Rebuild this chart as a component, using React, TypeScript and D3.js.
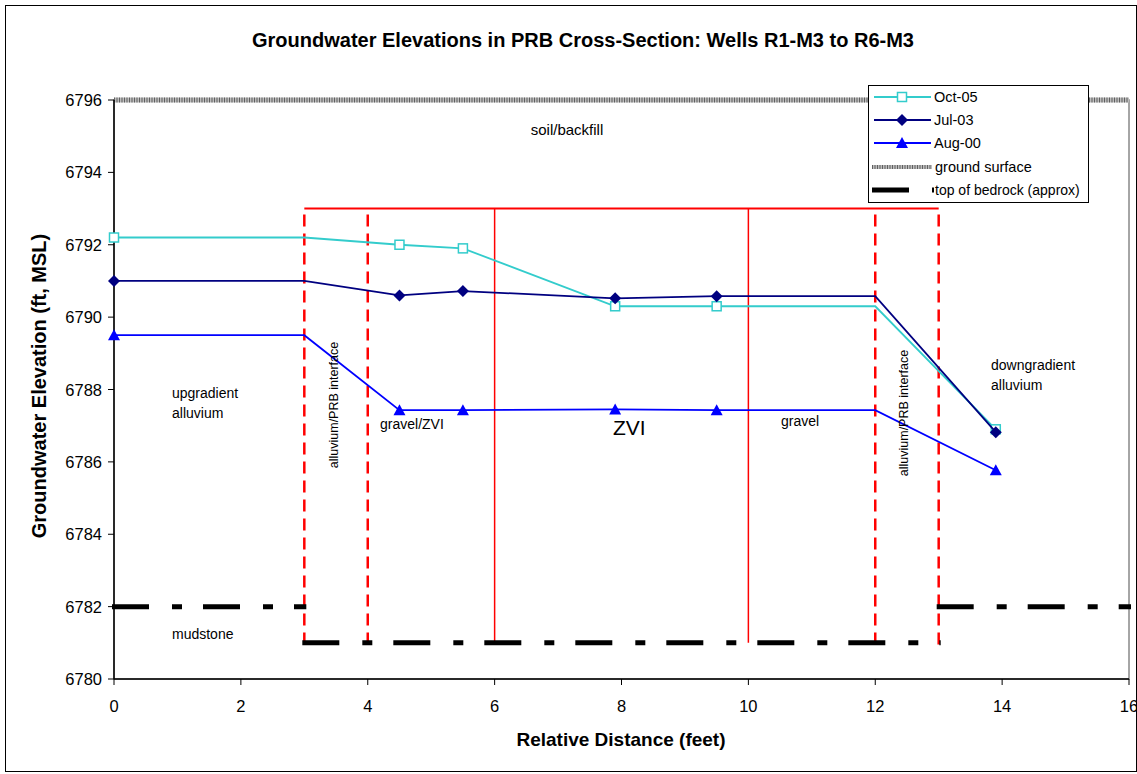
import React from "react";
import * as d3 from "d3";

const distances = [0, 3, 4.5, 5.5, 7.9, 9.5, 12, 13.9];
const markerFlags = [true, false, true, true, true, true, false, true];
const oct05 = [6792.2, 6792.2, 6792.0, 6791.9, 6790.3, 6790.3, 6790.3, 6786.9];
const jul03 = [6791.0, 6791.0, 6790.6, 6790.72, 6790.52, 6790.58, 6790.58, 6786.82];
const aug00 = [6789.5, 6789.5, 6787.43, 6787.43, 6787.45, 6787.43, 6787.43, 6785.77];

const xTicks = [0, 2, 4, 6, 8, 10, 12, 14, 16];
const yTicks = [6780, 6782, 6784, 6786, 6788, 6790, 6792, 6794, 6796];

const groundSurface = 6796;
const bedrockSegments = [
  { x0: 0, x1: 3, y: 6782 },
  { x0: 3, x1: 13, y: 6781 },
  { x0: 13, x1: 16, y: 6782 },
];
const barrierTop = 6793;
const barrierBottom = 6781;
const barrierX0 = 3;
const barrierX1 = 13;
const dashedWalls = [3, 4, 12, 13];
const solidWalls = [6, 10];

const series = [
  { name: "Oct-05", values: oct05, color: "#33CCCC", marker: "square" },
  { name: "Jul-03", values: jul03, color: "#000080", marker: "diamond" },
  { name: "Aug-00", values: aug00, color: "#0000FF", marker: "triangle" },
];

const W = 1137;
const H = 774;
const font = "Arial, 'Liberation Sans', sans-serif";

function Marker({ type, x, y, color }: { type: string; x: number; y: number; color: string }) {
  if (type === "square") {
    return <rect x={x - 4.5} y={y - 4.5} width={9} height={9} fill="white" stroke={color} strokeWidth={1.5} />;
  }
  if (type === "diamond") {
    return <path d={`M${x},${y - 6}L${x + 6},${y}L${x},${y + 6}L${x - 6},${y}Z`} fill={color} />;
  }
  return <path d={`M${x},${y - 6}L${x + 6},${y + 5}L${x - 6},${y + 5}Z`} fill={color} />;
}

export default function App() {
  const x = d3.scaleLinear().domain([0, 16]).range([114, 1129]);
  const y = d3.scaleLinear().domain([6780, 6796]).range([679, 100]);
  const line = d3
    .line<number>()
    .x((_, i) => x(distances[i]))
    .y((d) => y(d));

  const bedDash = "37 23 10 21";

  return (
    <div style={{ position: "absolute", left: 0, top: 0 }}>
      <svg width={W} height={H} style={{ display: "block", fontFamily: font }}>
        <rect x={0} y={0} width={W} height={H} fill="white" />
        <rect x={5.5} y={5.5} width={1131} height={766} fill="none" stroke="#000" strokeWidth={1} />

        {/* plot border */}
        <rect x={x(0)} y={y(6796)} width={x(16) - x(0)} height={y(6780) - y(6796)} fill="none" stroke="#888" strokeWidth={1.5} />

        {/* title */}
        <text x={583} y={47} textAnchor="middle" fontWeight="bold" fontSize={20}>
          Groundwater Elevations in PRB Cross-Section: Wells R1-M3 to R6-M3
        </text>

        {/* red barrier */}
        <line x1={x(barrierX0)} x2={x(barrierX1)} y1={y(barrierTop)} y2={y(barrierTop)} stroke="#FF0000" strokeWidth={2} />
        {dashedWalls.map((w) => (
          <line key={"d" + w} x1={x(w)} x2={x(w)} y1={y(barrierTop) + 6} y2={y(barrierBottom) + 4} stroke="#FF0000" strokeWidth={2.5} strokeDasharray="12 7" />
        ))}
        {solidWalls.map((w) => (
          <line key={"s" + w} x1={x(w)} x2={x(w)} y1={y(barrierTop)} y2={y(barrierBottom)} stroke="#FF0000" strokeWidth={1.5} />
        ))}

        {/* ground surface */}
        <line x1={x(0)} x2={x(16)} y1={y(groundSurface)} y2={y(groundSurface)} stroke="#bdbdbd" strokeWidth={5} />
        <line x1={x(0)} x2={x(16)} y1={y(groundSurface)} y2={y(groundSurface)} stroke="#606060" strokeWidth={5} strokeDasharray="1 1.5" />

        {/* bedrock */}
        {bedrockSegments.map((s, i) => (
          <line key={"b" + i} x1={x(s.x0) - 2} x2={x(s.x1) + 2} y1={y(s.y)} y2={y(s.y)} stroke="#000" strokeWidth={5} strokeDasharray={bedDash} />
        ))}

        {/* axes */}
        <line x1={x(0)} x2={x(0)} y1={y(6796)} y2={y(6780)} stroke="#000" strokeWidth={1.5} />
        <line x1={x(0)} x2={x(16)} y1={y(6780)} y2={y(6780)} stroke="#000" strokeWidth={1.5} />
        {yTicks.map((t) => (
          <g key={"yt" + t}>
            <line x1={x(0) - 6} x2={x(0)} y1={y(t)} y2={y(t)} stroke="#000" strokeWidth={1} />
            <text x={102} y={y(t) + 6} textAnchor="end" fontSize={16.5}>{t}</text>
          </g>
        ))}
        {xTicks.map((t) => (
          <g key={"xt" + t}>
            <line x1={x(t)} x2={x(t)} y1={y(6780)} y2={y(6780) + 6} stroke="#000" strokeWidth={1} />
            <text x={x(t)} y={712} textAnchor="middle" fontSize={16.5}>{t}</text>
          </g>
        ))}

        {/* series */}
        {series.map((s) => (
          <g key={s.name}>
            <path d={line(s.values) || ""} fill="none" stroke={s.color} strokeWidth={1.8} />
            {s.values.map((v, i) =>
              markerFlags[i] ? <Marker key={i} type={s.marker} x={x(distances[i])} y={y(v)} color={s.color} /> : null
            )}
          </g>
        ))}

        {/* annotations */}
        <g fontSize={14} fill="#000">
          <text x={567} y={135} textAnchor="middle" fontSize={15}>soil/backfill</text>
          <text x={172} y={398}>upgradient</text>
          <text x={172} y={418}>alluvium</text>
          <text x={380} y={429}>gravel/ZVI</text>
          <text x={781} y={426}>gravel</text>
          <text x={991} y={370}>downgradient</text>
          <text x={991} y={390}>alluvium</text>
          <text x={172} y={639}>mudstone</text>
          <text x={613} y={435} fontSize={21}>ZVI</text>
          <text transform={`translate(338,405) rotate(-90)`} textAnchor="middle" fontSize={12.5}>alluvium/PRB interface</text>
          <text transform={`translate(908,413) rotate(-90)`} textAnchor="middle" fontSize={12.5}>alluvium/PRB interface</text>
        </g>

        {/* axis titles */}
        <text x={621} y={746} textAnchor="middle" fontWeight="bold" fontSize={19}>Relative Distance (feet)</text>
        <text transform="translate(46,386) rotate(-90)" textAnchor="middle" fontWeight="bold" fontSize={20}>Groundwater Elevation (ft, MSL)</text>

        {/* legend */}
        <g>
          <rect x={868.5} y={85.5} width={220} height={117} fill="white" stroke="#000" strokeWidth={1} />
          {series.map((s, i) => {
            const ly = 97 + i * 23;
            return (
              <g key={"lg" + s.name}>
                <line x1={874} x2={931} y1={ly} y2={ly} stroke={s.color} strokeWidth={1.8} />
                <Marker type={s.marker} x={902} y={ly} color={s.color} />
                <text x={934} y={ly + 5} fontSize={14.5}>{s.name}</text>
              </g>
            );
          })}
          <line x1={872} x2={932} y1={167} y2={167} stroke="#bdbdbd" strokeWidth={4} />
          <line x1={872} x2={932} y1={167} y2={167} stroke="#606060" strokeWidth={4} strokeDasharray="1 1.5" />
          <text x={935} y={172} fontSize={14.5}>ground surface</text>
          <line x1={872} x2={934} y1={190} y2={190} stroke="#000" strokeWidth={5} strokeDasharray={bedDash} />
          <text x={935} y={195} fontSize={14}>top of bedrock (approx)</text>
        </g>
      </svg>
    </div>
  );
}
